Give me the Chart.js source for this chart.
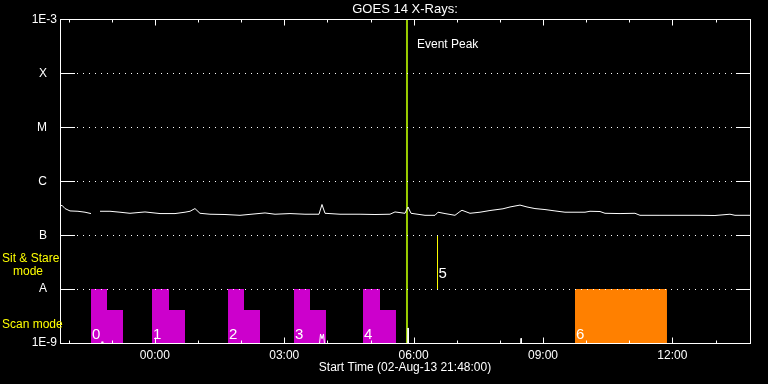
<!DOCTYPE html>
<html><head><meta charset="utf-8">
<script src="https://cdn.jsdelivr.net/npm/chart.js@4.4.0/dist/chart.umd.min.js"></script>
<style>html,body{margin:0;padding:0;background:#000;}canvas{display:block;}</style>
</head><body>
<canvas id="c" width="768" height="384"></canvas>
<script>
// Time in hours relative to 03-Aug-13 00:00 (start 02-Aug-13 21:48 = -2.2 h)
const startHour = -2.2;
const endHour = 13.8;

const fluxTimes = [-2.180,-2.154,-2.084,-1.968,-1.783,-1.620,-1.481,-1.380,-1.272,-1.041,
  -0.809,-0.577,-0.229,0.119,0.467,0.699,0.815,0.930,1.046,1.278,
  1.626,1.974,2.554,2.786,3.133,3.481,3.806,3.875,3.945,4.293,
  4.757,5.104,5.452,5.568,5.800,5.870,5.939,6.264,6.496,6.565,
  6.728,6.959,7.075,7.122,7.307,7.539,7.771,8.072,8.235,8.467,
  8.629,8.814,9.046,9.278,9.510,9.974,10.090,10.322,10.438,10.786,
  11.133,11.249,11.713,12.177,12.641,12.988,13.336,13.452,13.800];
const fluxValues = [3.5e-7,3.59e-7,3.12e-7,2.82e-7,2.78e-7,2.67e-7,2.52e-7,null,2.78e-7,2.78e-7,
  2.67e-7,2.55e-7,2.70e-7,2.52e-7,2.52e-7,2.67e-7,2.78e-7,3.12e-7,2.55e-7,2.45e-7,
  2.42e-7,2.34e-7,2.59e-7,2.45e-7,2.52e-7,2.45e-7,2.45e-7,3.71e-7,2.55e-7,2.45e-7,
  2.45e-7,2.42e-7,2.45e-7,2.70e-7,2.55e-7,3.34e-7,2.55e-7,2.34e-7,2.34e-7,2.67e-7,
  2.52e-7,2.34e-7,2.75e-7,2.90e-7,2.55e-7,2.67e-7,2.87e-7,3.09e-7,3.34e-7,3.62e-7,
  3.34e-7,3.12e-7,2.99e-7,2.82e-7,2.67e-7,2.67e-7,2.78e-7,2.75e-7,2.55e-7,2.52e-7,
  2.55e-7,2.34e-7,2.34e-7,2.34e-7,2.34e-7,2.32e-7,2.45e-7,2.34e-7,2.34e-7];

const lowTimes = [-1.245,-1.226,-1.207,3.806,3.841,3.875,3.910,3.945,5.862,5.870,5.878,8.480,8.490,8.500];
const lowValues = [8e-10,1.06e-9,8e-10,8e-10,1.47e-9,1.2e-9,1.47e-9,8e-10,8e-10,1.9e-9,8e-10,8e-10,1.22e-9,8e-10];

const eventPeakHour = 5.846;

const yTickValues = [1e-9,1e-8,1e-7,1e-6,1e-5,1e-4,1e-3];
const yTickLabels = ['1E-9','A','B','C','M','X','1E-3'];
const xTickHours = [-2,-1,0,1,2,3,4,5,6,7,8,9,10,11,12,13];
const xTickLabels = ['','','00:00','','','03:00','','','06:00','','','09:00','','','12:00',''];

const scanStart = [-1.481,-0.067,1.696,3.226,4.826];
const scanMid   = [-1.110, 0.328,2.067,3.597,5.220];
const scanEnd   = [-0.739, 0.699,2.438,3.968,5.591];
const scanHigh = 1e-8;
const scanLow = 4.1e-9;

const stareStart = 9.742;
const stareEnd = 11.875;
const stareLevel = 1e-8;

const sitLineHour = 6.554;
const sitLineFrom = 1e-8;
const sitLineTo = 1e-7;

const markerLabels = ['0','1','2','3','4','5','6'];
const markerHours = [...scanStart, sitLineHour, stareStart];
const markerLevels = [1.2e-9,1.2e-9,1.2e-9,1.2e-9,1.2e-9,1.6e-8,1.2e-9];

const FONT = 'Liberation Sans';
Chart.defaults.font.family = FONT;

const datasets = [];
datasets.push({label:'GOES long', data: fluxTimes.map((t,i)=>({x:t,y:fluxValues[i]})),
  borderColor:'#ffffff', borderWidth:1, pointRadius:0, spanGaps:false, tension:0});
datasets.push({label:'GOES short', data: lowTimes.map((t,i)=>({x:t,y:lowValues[i]})),
  borderColor:'#ffffff', borderWidth:1, pointRadius:0, tension:0});
datasets.push({label:'Event Peak', data:[{x:eventPeakHour,y:yTickValues[0]},{x:eventPeakHour,y:yTickValues[yTickValues.length-1]}],
  borderColor:'rgb(153,204,0)', borderWidth:2, pointRadius:0});
datasets.push({label:'Sit & Stare 5', data:[{x:sitLineHour,y:sitLineFrom},{x:sitLineHour,y:sitLineTo}],
  borderColor:'#ffff00', borderWidth:1, pointRadius:0});
scanStart.forEach((s,i)=>{
  datasets.push({label:'Scan '+i, data:[{x:s,y:scanHigh},{x:scanMid[i],y:scanLow},{x:scanEnd[i],y:scanLow}],
    stepped:'before', fill:'start', backgroundColor:'#cc00cc', borderColor:'rgba(0,0,0,0)', borderWidth:0, pointRadius:0});
});
datasets.push({label:'Stare 6', data:[{x:stareStart,y:stareLevel},{x:stareEnd,y:stareLevel}],
  fill:'start', backgroundColor:'#ff8000', borderColor:'rgba(0,0,0,0)', borderWidth:0, pointRadius:0});

const decor = {
  id:'decor',
  beforeDraw(chart){
    const c = chart.ctx; c.save(); c.fillStyle='#000'; c.fillRect(0,0,chart.width,chart.height); c.restore();
  },
  afterDraw(chart){
    const c = chart.ctx, a = chart.chartArea, xs = chart.scales.x, ys = chart.scales.y;
    const L = Math.round(a.left)+0.5, R = Math.round(a.right)+0.5, T = Math.floor(a.top)+0.5, B = Math.round(a.bottom)+0.5;
    c.save();
    c.strokeStyle='#fff'; c.lineWidth=1;
    c.strokeRect(L, T, R-L, B-T);
    c.beginPath();
    yTickValues.forEach((v,i)=>{
      if (i===0 || i===yTickValues.length-1) return;
      const y = Math.round(ys.getPixelForValue(v))+0.5;
      c.moveTo(L-0.5, y); c.lineTo(L+14.5, y);
      c.moveTo(R-14.5, y); c.lineTo(R+0.5, y);
    });
    xTickHours.forEach((h,i)=>{
      const x = Math.round(xs.getPixelForValue(h))+0.5;
      const len = xTickLabels[i] ? 6 : 3;
      c.moveTo(x, B); c.lineTo(x, B-len);
      c.moveTo(x, T); c.lineTo(x, T+len);
    });
    c.stroke();
    // marker labels
    c.fillStyle='#fff'; c.font='15px "'+FONT+'"'; c.textAlign='left'; c.textBaseline='alphabetic';
    markerLabels.forEach((t,i)=>{
      c.fillText(t, xs.getPixelForValue(markerHours[i])+1, ys.getPixelForValue(markerLevels[i]));
    });
    // event peak label
    c.font='12px "'+FONT+'"';
    c.fillText('Event Peak', xs.getPixelForValue(eventPeakHour)+10, a.top+28);
    // mode labels
    c.fillStyle='#ffff00';
    c.fillText('Sit & Stare', 2, 262);
    c.fillText('mode', 13, 275);
    c.fillText('Scan mode', 2, 328);
    c.restore();
  }
};

new Chart(document.getElementById('c'), {
  type:'line',
  data:{datasets},
  plugins:[decor],
  options:{
    responsive:false, animation:false, devicePixelRatio:1,
    layout:{padding:{right:18}},
    plugins:{
      legend:{display:false}, tooltip:{enabled:false},
      title:{display:true, text:'GOES 14 X-Rays:', color:'#ffffff', fullSize:false,
        font:{family:FONT, size:13, weight:'normal'}, padding:{top:2,bottom:2}}
    },
    scales:{
      x:{type:'linear', min:startHour, max:endHour,
        afterBuildTicks:s=>{ s.ticks = xTickHours.map(v=>({value:v})); },
        afterFit:s=>{ s.height = 41; },
        grid:{display:false, drawTicks:false},
        border:{display:false},
        ticks:{color:'#ffffff', font:{family:FONT,size:12}, padding:5, autoSkip:false, maxRotation:0,
          callback:(v,i)=> xTickLabels[i] || ''},
        title:{display:true, text:'Start Time (02-Aug-13 21:48:00)', color:'#ffffff',
          font:{family:FONT,size:12}, padding:{top:0,bottom:8.8}}
      },
      y:{type:'logarithmic', min:yTickValues[0], max:yTickValues[yTickValues.length-1],
        afterBuildTicks:s=>{ s.ticks = yTickValues.map(v=>({value:v})); },
        afterFit:s=>{ s.width = 60; },
        grid:{z:1, drawTicks:false, lineWidth:1,
          color:ctx=> (ctx.index===0 || ctx.index===yTickValues.length-1) ? 'rgba(0,0,0,0)' : '#ffffff'},
        border:{display:false, dash:[1,5], dashOffset:1},
        ticks:{color:'#ffffff', font:{family:FONT,size:12}, padding:3, autoSkip:false,
          callback:(v,i)=>{ const l = yTickLabels[i]; return /^[A-Z]$/.test(l) ? l+'   ' : l; }}
      }
    }
  }
});
</script>
</body></html>
